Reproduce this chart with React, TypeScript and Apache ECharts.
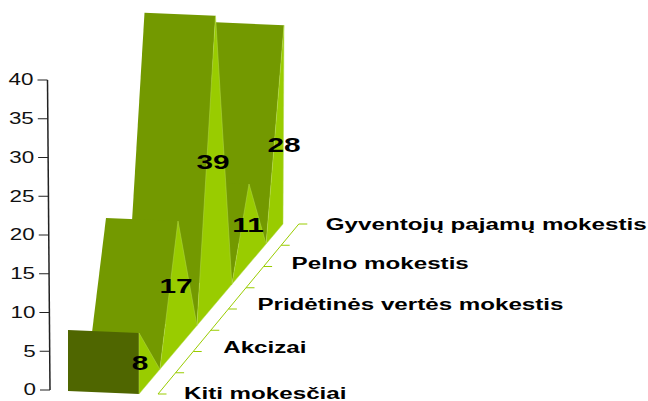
import React, { useEffect, useRef } from "react";
import * as echarts from "echarts";

const categories = ["Kiti mokesčiai", "Akcizai", "Pridėtinės vertės mokestis", "Pelno mokestis", "Gyventojų pajamų mokestis"];
const values = [8, 17, 39, 11, 28];
const tickLabels = [0, 5, 10, 15, 20, 25, 30, 35, 40];

// projection constants (not data)
const OX = 139, DY_STEP = 42.5, FLOOR_DY = 4;
const depthScale = [0.985, 0.99, 0.97, 0.968, 0.916];
const leanX = [0, 3, 4.5, 2, 1];
const valleyDepth = [0, 0.58, 1.61, 2.58, 3.53, 4];
const faceWidth = [71, 72, 71, 72, 68];
const labelDy = [0, 0, 0, 0, 21];
const catLabelPos = [[26, -1], [30, -4.5], [29, -4.5], [28, -3], [27, 0]];
const DARK = "#739900", LIGHT = "#99cc00", FRONT = "#4f6600", AXIS = "#222222";

function geometry(api: any, i: number, v: number) {
  const o = api.coord([0, 0]);
  const stepX = api.coord([1, 0])[0] - o[0];
  const top = api.coord([0, v]);
  const h = (o[1] - top[1]) * depthScale[i];
  const ground = (d: number) => [o[0] + d * stepX, o[1] + FLOOR_DY - d * DY_STEP];
  const g = ground(i);
  const peak = [g[0] + leanX[i], g[1] - h];
  return { ground, g, peak, h };
}

function renderFace(params: any, api: any) {
  const i = api.value(0), v = api.value(1);
  const { ground, g, peak } = geometry(api, i, v);
  const w = faceWidth[i];
  const vL = ground(valleyDepth[i]);
  const vR = ground(valleyDepth[i + 1]);
  const bottomRight = i === 0 ? g : vL;
  const lightPts = i === 0 ? [peak, vR, g] : [vL, peak, vR];
  return {
    type: "group",
    children: [
      {
        type: "polygon",
        shape: { points: [[peak[0] - w, peak[1] - 3], peak, bottomRight, [bottomRight[0] - w, bottomRight[1] - 3]] },
        style: { fill: i === 0 ? FRONT : DARK },
      },
      { type: "polygon", shape: { points: lightPts }, style: { fill: LIGHT, stroke: "#b5da4d", lineWidth: 0.5 } },
    ],
  };
}

function renderValueLabel(params: any, api: any) {
  const i = api.value(0), v = api.value(1);
  const { g, peak } = geometry(api, i, v);
  return {
    type: "text",
    x: g[0] + (i === 0 ? 1 : [0, 1, 2, 1, 1][i]),
    y: (peak[1] + g[1]) / 2 + labelDy[i] - 1,
    scaleX: 1.42,
    style: {
      text: String(v),
      fill: "#000",
      font: 'bold 21px "Liberation Sans", Arial, sans-serif',
      align: "center",
      verticalAlign: "middle",
    },
  };
}

function renderYAxis(params: any, api: any) {
  const v = api.value(0);
  const p = api.coord([0, v]);
  const axisX = (t: number) => p[0] - 89 - (t / 40) * 2.5;
  const y = p[1];
  const x = axisX(v);
  const children: any[] = [
    { type: "line", shape: { x1: x - 10, y1: y, x2: x, y2: y }, style: { stroke: AXIS, lineWidth: 1 } },
    {
      type: "text",
      x: x - 14,
      y: y - 0.5,
      scaleX: 1.4,
      style: { text: String(v), fill: "#111", font: '16px "Liberation Sans", Arial, sans-serif', align: "right", verticalAlign: "middle" },
    },
  ];
  if (v === 0) {
    const top = api.coord([0, 40]);
    children.push({
      type: "line",
      shape: { x1: x, y1: y, x2: axisX(40), y2: top[1] },
      style: { stroke: AXIS, lineWidth: 1.5 },
    });
  }
  return { type: "group", children };
}

function floorPoint(api: any, t: number) {
  const o = api.coord([0, 0]);
  const stepX = api.coord([1, 0])[0] - o[0];
  return [o[0] + 19 + (t / 2) * (stepX - 0.8), o[1] + FLOOR_DY - (t / 2) * DY_STEP];
}

function renderFloor(params: any, api: any) {
  const i = api.value(0);
  const children: any[] = [];
  const a = floorPoint(api, i * 2);
  const drawTick = (t: number) => {
    const q = floorPoint(api, t);
    children.push({ type: "line", shape: { x1: q[0], y1: q[1], x2: q[0] + 8.5, y2: q[1] }, style: { stroke: LIGHT, lineWidth: 1 } });
  };
  drawTick(i * 2);
  if (i < categories.length - 1) {
    drawTick(i * 2 + 1);
    const b = floorPoint(api, i * 2 + 2);
    children.push({ type: "line", shape: { x1: a[0], y1: a[1], x2: b[0], y2: b[1] }, style: { stroke: LIGHT, lineWidth: 1 } });
  }
  children.push({
    type: "text",
    x: a[0] + catLabelPos[i][0],
    y: a[1] + catLabelPos[i][1],
    scaleX: 1.51,
    style: {
      text: categories[i],
      fill: "#000",
      font: 'bold 16px "Liberation Sans", Arial, sans-serif',
      align: "left",
      verticalAlign: "middle",
    },
  });
  return { type: "group", children };
}

export default function App() {
  const ref = useRef<HTMLDivElement>(null);
  useEffect(() => {
    document.body.style.margin = "0";
    const chart = echarts.init(ref.current!, undefined, { renderer: "svg" });
    const faces = categories.map((_, i) => [i, values[i]]).reverse();
    chart.setOption({
      animation: false,
      backgroundColor: "#fff",
      grid: { left: OX, width: 144, top: 80, bottom: 11 },
      xAxis: { type: "category", data: categories, boundaryGap: false, show: false },
      yAxis: { type: "value", min: 0, max: 40, interval: 5, show: false },
      series: [
        { type: "custom", name: "faces", renderItem: renderFace, data: faces, encode: { x: 0, y: 1 }, clip: false, z: 2 },
        { type: "custom", name: "yaxis", renderItem: renderYAxis, data: tickLabels.map((t) => [t]), encode: { y: 0 }, clip: false, z: 3 },
        { type: "custom", name: "floor", renderItem: renderFloor, data: categories.map((_, i) => [i]), encode: { x: 0 }, clip: false, z: 3 },
        { type: "custom", name: "labels", renderItem: renderValueLabel, data: faces, encode: { x: 0, y: 1 }, clip: false, z: 4 },
      ],
    });
    return () => chart.dispose();
  }, []);
  return <div ref={ref} style={{ width: 648, height: 401 }} />;
}
